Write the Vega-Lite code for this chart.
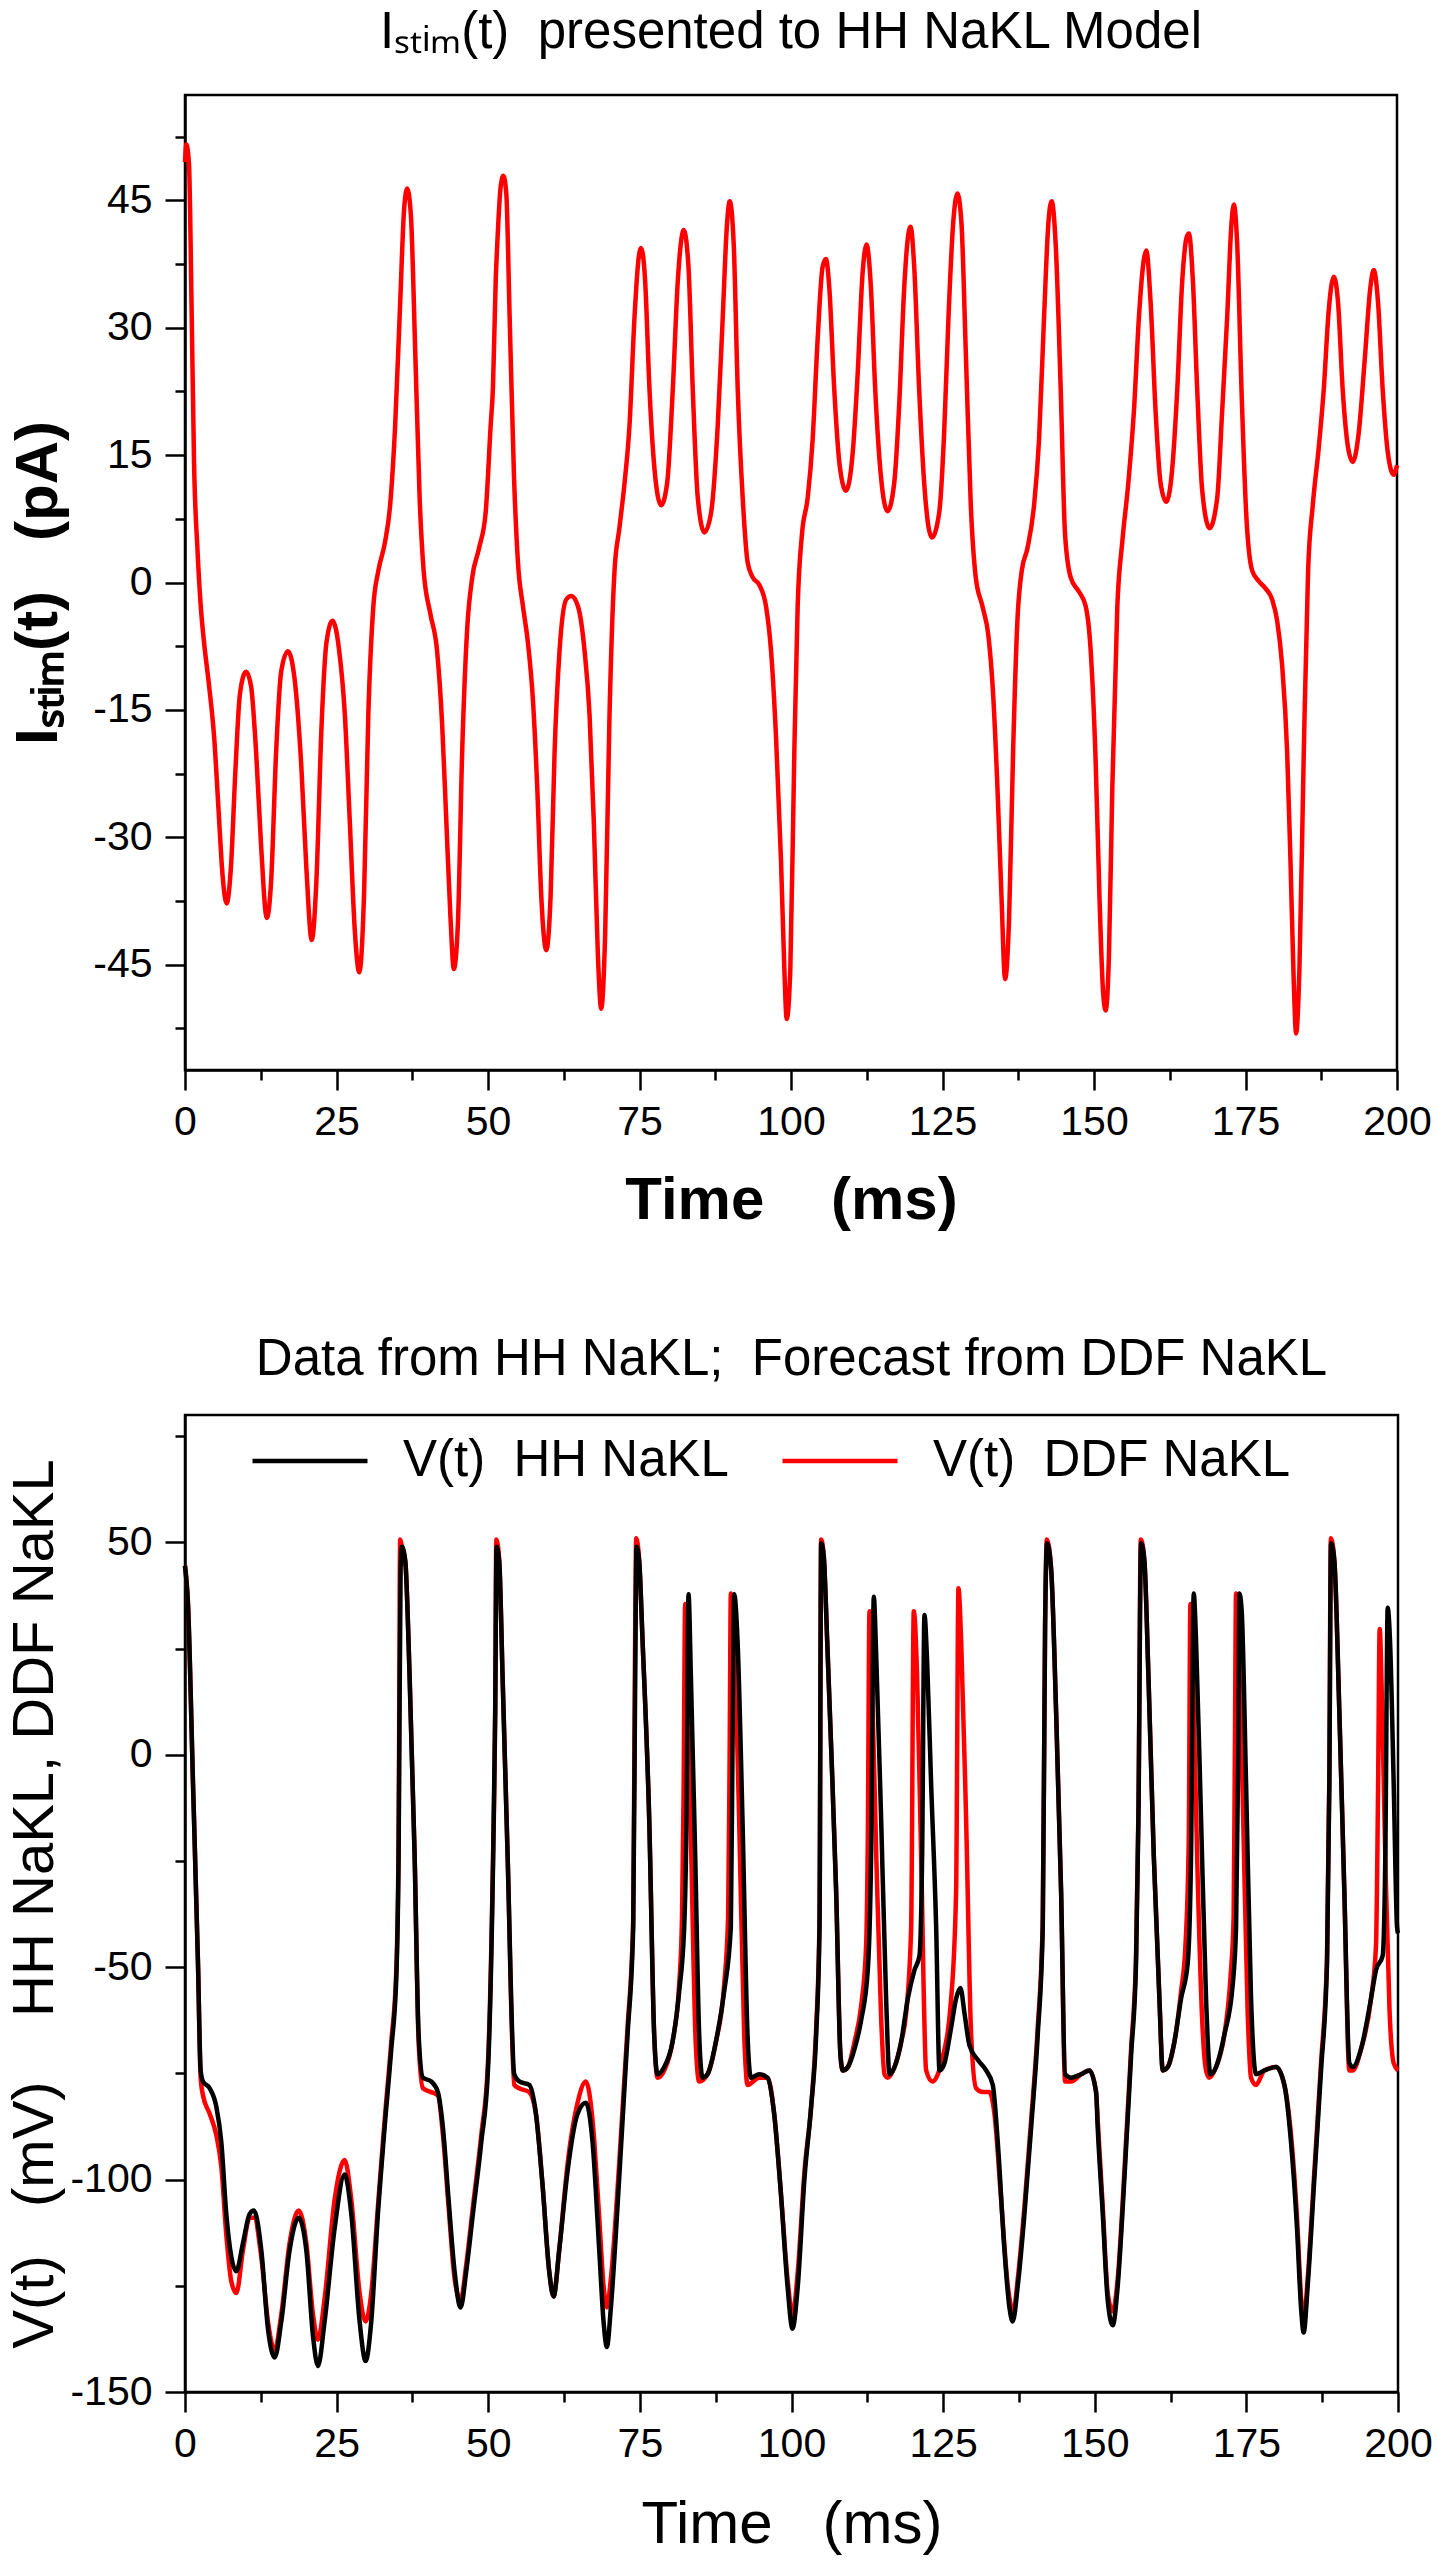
{
  "$schema": "https://vega.github.io/schema/vega-lite/v6.json",
  "padding": {"left": 5, "top": 5, "right": 0, "bottom": 0},
  "background": "white",
  "columns": 1,
  "align": "none",
  "spacing": 100,
  "resolve": {"scale": {"color": "independent"}, "legend": {"color": "independent"}},
  "config": {
    "font": "Liberation Sans",
    "view": {"stroke": "black", "strokeWidth": 2.5},
    "axis": {"domainColor": "black", "domainWidth": 2.5, "tickColor": "black", "tickWidth": 2.5, "grid": false, "labelColor": "black", "titleColor": "black", "labelFont": "Liberation Sans", "titleFont": "Liberation Sans", "labelFontSize": 41, "labelFlush": false, "labelOverlap": false},
    "title": {"font": "Liberation Sans", "color": "black", "fontWeight": "normal", "anchor": "middle", "frame": "group", "baseline": "alphabetic"}
  },
  "datasets": {
    "stim": [
      {"t":0,"I":49.5},{"t":0.22,"I":51.6},{"t":0.66,"I":49.2},{"t":1.11,"I":31.3},{"t":1.49,"I":14.2},{"t":2.05,"I":4.0},{"t":2.6,"I":-2.8},{"t":3.15,"I":-7.1},{"t":3.98,"I":-12.2},{"t":4.81,"I":-18.2},{"t":5.53,"I":-26.7},{"t":6.19,"I":-34.4},{"t":6.86,"I":-37.8},{"t":7.58,"I":-33.5},{"t":8.3,"I":-22.4},{"t":9.07,"I":-13.1},{"t":10.07,"I":-10.5},{"t":10.9,"I":-12.2},{"t":11.73,"I":-19.9},{"t":12.56,"I":-31.0},{"t":13.5,"I":-39.5},{"t":14.21,"I":-35.2},{"t":15.04,"I":-19.9},{"t":15.87,"I":-10.5},{"t":16.98,"I":-8.1},{"t":18.09,"I":-11.4},{"t":19.19,"I":-21.6},{"t":20.02,"I":-33.5},{"t":20.91,"I":-42.1},{"t":21.68,"I":-35.2},{"t":22.51,"I":-17.3},{"t":23.34,"I":-7.1},{"t":24.34,"I":-4.5},{"t":25.44,"I":-8.0},{"t":26.38,"I":-15.6},{"t":27.21,"I":-28.4},{"t":28.04,"I":-41.2},{"t":28.76,"I":-45.9},{"t":29.54,"I":-36.9},{"t":30.25,"I":-15.6},{"t":31.08,"I":-2.8},{"t":31.91,"I":1.4},{"t":33.02,"I":4.8},{"t":33.85,"I":9.1},{"t":34.68,"I":18.5},{"t":35.51,"I":33.0},{"t":36.17,"I":44.1},{"t":36.67,"I":46.4},{"t":37.28,"I":43.2},{"t":38.0,"I":27.0},{"t":38.72,"I":9.95},{"t":39.38,"I":1.4},{"t":40.49,"I":-3.7},{"t":41.59,"I":-8.0},{"t":42.42,"I":-16.5},{"t":43.14,"I":-28.4},{"t":43.81,"I":-39.5},{"t":44.36,"I":-45.5},{"t":45.02,"I":-40.4},{"t":45.74,"I":-19.9},{"t":46.57,"I":-5.4},{"t":47.4,"I":0.6},{"t":48.51,"I":4.0},{"t":49.61,"I":8.2},{"t":50.44,"I":18.5},{"t":50.82,"I":23.0},{"t":51.27,"I":35.5},{"t":51.54,"I":40.0},{"t":52.09,"I":46.6},{"t":52.53,"I":47.9},{"t":53.02,"I":45.8},{"t":53.57,"I":31.3},{"t":54.29,"I":12.5},{"t":54.95,"I":2.3},{"t":55.77,"I":-2.8},{"t":56.59,"I":-7.1},{"t":57.42,"I":-13.9},{"t":58.13,"I":-24.2},{"t":58.79,"I":-36.9},{"t":59.62,"I":-43.3},{"t":60.33,"I":-36.9},{"t":60.99,"I":-19.9},{"t":61.81,"I":-8.0},{"t":62.91,"I":-2.0},{"t":63.74,"I":-1.6},{"t":64.84,"I":-2.8},{"t":65.93,"I":-8.0},{"t":66.76,"I":-15.6},{"t":67.47,"I":-28.4},{"t":68.13,"I":-43.8},{"t":68.68,"I":-50.2},{"t":69.34,"I":-41.2},{"t":70.05,"I":-15.6},{"t":70.88,"I":1.4},{"t":71.7,"I":6.5},{"t":72.53,"I":11.7},{"t":73.35,"I":18.5},{"t":74.18,"I":31.3},{"t":74.84,"I":38.1},{"t":75.27,"I":39.4},{"t":75.93,"I":35.5},{"t":76.65,"I":22.7},{"t":77.47,"I":13.4},{"t":78.57,"I":9.1},{"t":79.56,"I":11.7},{"t":80.49,"I":22.7},{"t":81.32,"I":35.5},{"t":82.31,"I":41.5},{"t":83.08,"I":37.2},{"t":83.79,"I":22.7},{"t":84.62,"I":9.95},{"t":85.71,"I":5.9},{"t":86.81,"I":8.2},{"t":87.91,"I":18.5},{"t":88.74,"I":31.3},{"t":89.45,"I":42.3},{"t":89.89,"I":44.9},{"t":90.55,"I":39.8},{"t":91.21,"I":22.7},{"t":92.03,"I":9.95},{"t":92.86,"I":2.3},{"t":93.68,"I":0.6},{"t":94.78,"I":-0.3},{"t":95.88,"I":-2.8},{"t":96.7,"I":-8.0},{"t":97.53,"I":-18.2},{"t":98.35,"I":-32.7},{"t":98.9,"I":-45.5},{"t":99.29,"I":-51.4},{"t":99.89,"I":-45.5},{"t":100.55,"I":-19.9},{"t":101.1,"I":-2.8},{"t":101.81,"I":5.7},{"t":102.75,"I":9.95},{"t":103.57,"I":16.8},{"t":104.4,"I":28.7},{"t":105.22,"I":37.2},{"t":105.77,"I":38.1},{"t":106.32,"I":34.7},{"t":107.14,"I":22.7},{"t":107.97,"I":14.2},{"t":109.07,"I":10.8},{"t":110.16,"I":15.1},{"t":110.99,"I":24.4},{"t":111.81,"I":36.4},{"t":112.47,"I":39.8},{"t":113.19,"I":34.7},{"t":113.9,"I":22.7},{"t":114.84,"I":12.5},{"t":115.93,"I":8.4},{"t":117.03,"I":11.7},{"t":117.86,"I":21.0},{"t":118.68,"I":34.7},{"t":119.29,"I":40.6},{"t":119.73,"I":41.9},{"t":120.33,"I":37.2},{"t":121.15,"I":22.7},{"t":121.98,"I":11.7},{"t":123.24,"I":5.3},{"t":124.45,"I":8.2},{"t":125.27,"I":17.6},{"t":125.99,"I":31.3},{"t":126.76,"I":42.3},{"t":127.47,"I":45.8},{"t":128.13,"I":42.3},{"t":128.85,"I":27.0},{"t":129.67,"I":9.1},{"t":130.49,"I":0.6},{"t":131.59,"I":-2.8},{"t":132.58,"I":-6.3},{"t":133.35,"I":-13.1},{"t":134.07,"I":-24.2},{"t":134.73,"I":-36.9},{"t":135.33,"I":-46.7},{"t":135.99,"I":-39.5},{"t":136.65,"I":-19.9},{"t":137.36,"I":-4.5},{"t":138.08,"I":1.4},{"t":139.01,"I":4.0},{"t":140.11,"I":9.1},{"t":140.93,"I":16.8},{"t":141.76,"I":31.3},{"t":142.47,"I":42.3},{"t":143.02,"I":44.9},{"t":143.68,"I":39.8},{"t":144.51,"I":22.7},{"t":145.22,"I":5.7},{"t":146.15,"I":0.6},{"t":147.53,"I":-1.1},{"t":148.63,"I":-2.8},{"t":149.45,"I":-8.0},{"t":150.27,"I":-21.0},{"t":150.9,"I":-36.9},{"t":151.48,"I":-48.0},{"t":151.92,"I":-50.4},{"t":152.47,"I":-43.8},{"t":153.02,"I":-24.2},{"t":153.85,"I":-2.8},{"t":154.67,"I":4.8},{"t":155.66,"I":11.7},{"t":156.59,"I":20.2},{"t":157.42,"I":31.3},{"t":158.24,"I":38.1},{"t":158.63,"I":39.1},{"t":159.34,"I":33.0},{"t":160.16,"I":20.2},{"t":160.99,"I":11.7},{"t":161.92,"I":9.5},{"t":162.91,"I":13.4},{"t":163.74,"I":22.7},{"t":164.56,"I":35.5},{"t":165.27,"I":40.6},{"t":165.66,"I":41.1},{"t":166.32,"I":35.5},{"t":167.03,"I":22.7},{"t":167.86,"I":10.8},{"t":169.07,"I":6.4},{"t":170.33,"I":9.95},{"t":171.15,"I":20.2},{"t":171.98,"I":31.3},{"t":172.69,"I":42.3},{"t":173.08,"I":44.5},{"t":173.63,"I":39.8},{"t":174.34,"I":22.7},{"t":175.11,"I":8.2},{"t":176.1,"I":1.4},{"t":177.2,"I":0.15},{"t":178.3,"I":-0.7},{"t":179.4,"I":-2.0},{"t":180.22,"I":-4.5},{"t":181.04,"I":-9.7},{"t":181.87,"I":-19.9},{"t":182.42,"I":-32.7},{"t":182.97,"I":-47.2},{"t":183.35,"I":-53.1},{"t":183.9,"I":-45.5},{"t":184.62,"I":-19.9},{"t":185.33,"I":1.4},{"t":186.1,"I":9.1},{"t":187.09,"I":15.9},{"t":187.91,"I":22.7},{"t":188.74,"I":32.1},{"t":189.56,"I":36.0},{"t":190.27,"I":33.0},{"t":191.04,"I":22.7},{"t":191.92,"I":15.9},{"t":192.69,"I":14.2},{"t":193.68,"I":17.6},{"t":194.67,"I":26.2},{"t":195.6,"I":34.7},{"t":196.15,"I":36.8},{"t":196.87,"I":33.0},{"t":197.64,"I":22.7},{"t":198.52,"I":15.1},{"t":199.45,"I":12.7},{"t":200,"I":13.8}
    ],
    "volt": [
      {"t":0,"V":44.5,"m":"HH"},{"t":0.49,"V":35.5,"m":"HH"},{"t":1.32,"V":-6.8,"m":"HH"},{"t":2.14,"V":-49.0,"m":"HH"},{"t":2.58,"V":-74.3,"m":"HH"},{"t":2.97,"V":-76.9,"m":"HH"},{"t":4.07,"V":-78.5,"m":"HH"},{"t":5.16,"V":-82.8,"m":"HH"},{"t":5.99,"V":-91.2,"m":"HH"},{"t":6.81,"V":-108.1,"m":"HH"},{"t":7.64,"V":-118.2,"m":"HH"},{"t":8.46,"V":-121.6,"m":"HH"},{"t":9.56,"V":-114.9,"m":"HH"},{"t":10.66,"V":-108.1,"m":"HH"},{"t":11.37,"V":-107.3,"m":"HH"},{"t":12.58,"V":-116.6,"m":"HH"},{"t":13.68,"V":-135.1,"m":"HH"},{"t":14.78,"V":-141.9,"m":"HH"},{"t":15.88,"V":-133.4,"m":"HH"},{"t":17.25,"V":-116.6,"m":"HH"},{"t":18.74,"V":-109.0,"m":"HH"},{"t":20.0,"V":-116.6,"m":"HH"},{"t":21.1,"V":-136.8,"m":"HH"},{"t":21.92,"V":-143.9,"m":"HH"},{"t":23.02,"V":-133.4,"m":"HH"},{"t":24.67,"V":-111.5,"m":"HH"},{"t":26.32,"V":-98.8,"m":"HH"},{"t":27.42,"V":-108.1,"m":"HH"},{"t":28.79,"V":-133.4,"m":"HH"},{"t":29.78,"V":-142.7,"m":"HH"},{"t":30.71,"V":-133.4,"m":"HH"},{"t":31.81,"V":-108.1,"m":"HH"},{"t":32.91,"V":-87.8,"m":"HH"},{"t":34.01,"V":-69.3,"m":"HH"},{"t":34.84,"V":-52.4,"m":"HH"},{"t":35.22,"V":-23.6,"m":"HH"},{"t":35.55,"V":43.9,"m":"HH"},{"t":35.77,"V":49.0,"m":"HH"},{"t":36.32,"V":45.6,"m":"HH"},{"t":37.03,"V":18.6,"m":"HH"},{"t":37.86,"V":-23.6,"m":"HH"},{"t":38.52,"V":-65.9,"m":"HH"},{"t":39.23,"V":-76.0,"m":"HH"},{"t":40.6,"V":-76.9,"m":"HH"},{"t":41.7,"V":-79.4,"m":"HH"},{"t":42.53,"V":-87.8,"m":"HH"},{"t":43.46,"V":-104.7,"m":"HH"},{"t":44.45,"V":-121.6,"m":"HH"},{"t":45.44,"V":-130.1,"m":"HH"},{"t":46.37,"V":-121.6,"m":"HH"},{"t":47.47,"V":-108.1,"m":"HH"},{"t":48.85,"V":-91.2,"m":"HH"},{"t":49.95,"V":-74.3,"m":"HH"},{"t":50.71,"V":-32.1,"m":"HH"},{"t":51.15,"V":10.1,"m":"HH"},{"t":51.37,"V":49.0,"m":"HH"},{"t":51.81,"V":45.6,"m":"HH"},{"t":52.36,"V":18.6,"m":"HH"},{"t":53.19,"V":-23.6,"m":"HH"},{"t":54.29,"V":-75.2,"m":"HH"},{"t":55.11,"V":-76.9,"m":"HH"},{"t":56.76,"V":-77.7,"m":"HH"},{"t":57.86,"V":-84.5,"m":"HH"},{"t":58.96,"V":-101.4,"m":"HH"},{"t":60.05,"V":-121.6,"m":"HH"},{"t":60.77,"V":-127.5,"m":"HH"},{"t":61.7,"V":-116.6,"m":"HH"},{"t":63.08,"V":-98.0,"m":"HH"},{"t":64.73,"V":-84.5,"m":"HH"},{"t":66.1,"V":-81.9,"m":"HH"},{"t":67.2,"V":-91.2,"m":"HH"},{"t":68.3,"V":-116.6,"m":"HH"},{"t":69.01,"V":-133.4,"m":"HH"},{"t":69.56,"V":-139.4,"m":"HH"},{"t":70.22,"V":-130.1,"m":"HH"},{"t":71.59,"V":-99.7,"m":"HH"},{"t":72.97,"V":-65.9,"m":"HH"},{"t":73.9,"V":-40.5,"m":"HH"},{"t":74.23,"V":18.6,"m":"HH"},{"t":74.45,"V":49.0,"m":"HH"},{"t":74.89,"V":45.6,"m":"HH"},{"t":75.44,"V":27.0,"m":"HH"},{"t":76.54,"V":-15.2,"m":"HH"},{"t":77.36,"V":-65.9,"m":"HH"},{"t":77.91,"V":-75.2,"m":"HH"},{"t":79.01,"V":-73.5,"m":"HH"},{"t":80.38,"V":-67.6,"m":"HH"},{"t":81.48,"V":-55.7,"m":"HH"},{"t":82.31,"V":-40.5,"m":"HH"},{"t":82.69,"V":-15.2,"m":"HH"},{"t":83.02,"V":37.8,"m":"HH"},{"t":83.41,"V":18.6,"m":"HH"},{"t":84.12,"V":-23.6,"m":"HH"},{"t":84.78,"V":-65.9,"m":"HH"},{"t":85.33,"V":-76.0,"m":"HH"},{"t":86.15,"V":-75.2,"m":"HH"},{"t":87.53,"V":-67.6,"m":"HH"},{"t":88.9,"V":-55.7,"m":"HH"},{"t":90.0,"V":-40.5,"m":"HH"},{"t":90.27,"V":1.7,"m":"HH"},{"t":90.55,"V":37.8,"m":"HH"},{"t":91.1,"V":27.0,"m":"HH"},{"t":91.92,"V":-15.2,"m":"HH"},{"t":92.75,"V":-65.9,"m":"HH"},{"t":93.3,"V":-76.0,"m":"HH"},{"t":94.67,"V":-75.2,"m":"HH"},{"t":96.04,"V":-76.0,"m":"HH"},{"t":97.14,"V":-84.5,"m":"HH"},{"t":98.24,"V":-103.0,"m":"HH"},{"t":99.34,"V":-125.0,"m":"HH"},{"t":100.16,"V":-135.1,"m":"HH"},{"t":101.04,"V":-125.0,"m":"HH"},{"t":102.14,"V":-99.7,"m":"HH"},{"t":103.24,"V":-82.8,"m":"HH"},{"t":104.07,"V":-65.9,"m":"HH"},{"t":104.62,"V":-40.5,"m":"HH"},{"t":104.89,"V":49.8,"m":"HH"},{"t":105.33,"V":46.5,"m":"HH"},{"t":105.88,"V":27.0,"m":"HH"},{"t":106.54,"V":1.7,"m":"HH"},{"t":107.36,"V":-32.1,"m":"HH"},{"t":108.08,"V":-70.9,"m":"HH"},{"t":108.46,"V":-74.3,"m":"HH"},{"t":109.29,"V":-73.5,"m":"HH"},{"t":110.38,"V":-69.3,"m":"HH"},{"t":111.48,"V":-62.5,"m":"HH"},{"t":112.58,"V":-50.7,"m":"HH"},{"t":113.13,"V":-23.6,"m":"HH"},{"t":113.57,"V":37.2,"m":"HH"},{"t":113.96,"V":23.6,"m":"HH"},{"t":114.78,"V":-15.2,"m":"HH"},{"t":115.6,"V":-57.4,"m":"HH"},{"t":116.15,"V":-75.2,"m":"HH"},{"t":116.98,"V":-73.5,"m":"HH"},{"t":118.08,"V":-67.6,"m":"HH"},{"t":119.18,"V":-57.4,"m":"HH"},{"t":120.27,"V":-50.7,"m":"HH"},{"t":121.1,"V":-47.3,"m":"HH"},{"t":121.54,"V":-23.6,"m":"HH"},{"t":121.92,"V":32.9,"m":"HH"},{"t":122.36,"V":22.0,"m":"HH"},{"t":123.02,"V":-6.8,"m":"HH"},{"t":123.85,"V":-40.5,"m":"HH"},{"t":124.4,"V":-74.3,"m":"HH"},{"t":125.22,"V":-72.6,"m":"HH"},{"t":126.32,"V":-64.2,"m":"HH"},{"t":127.14,"V":-57.4,"m":"HH"},{"t":127.86,"V":-54.9,"m":"HH"},{"t":128.52,"V":-60.8,"m":"HH"},{"t":129.34,"V":-68.4,"m":"HH"},{"t":130.71,"V":-71.8,"m":"HH"},{"t":132.09,"V":-74.3,"m":"HH"},{"t":133.19,"V":-77.7,"m":"HH"},{"t":134.01,"V":-91.2,"m":"HH"},{"t":135.11,"V":-116.6,"m":"HH"},{"t":135.93,"V":-130.1,"m":"HH"},{"t":136.48,"V":-133.4,"m":"HH"},{"t":137.31,"V":-125.0,"m":"HH"},{"t":138.41,"V":-108.1,"m":"HH"},{"t":139.51,"V":-87.8,"m":"HH"},{"t":140.6,"V":-65.9,"m":"HH"},{"t":141.43,"V":-40.5,"m":"HH"},{"t":141.81,"V":30.0,"m":"HH"},{"t":142.14,"V":49.8,"m":"HH"},{"t":142.8,"V":43.9,"m":"HH"},{"t":143.63,"V":10.1,"m":"HH"},{"t":144.45,"V":-32.1,"m":"HH"},{"t":145.11,"V":-75.2,"m":"HH"},{"t":146.1,"V":-76.0,"m":"HH"},{"t":147.75,"V":-75.2,"m":"HH"},{"t":149.12,"V":-74.3,"m":"HH"},{"t":150.22,"V":-79.4,"m":"HH"},{"t":150.49,"V":-87.8,"m":"HH"},{"t":151.32,"V":-108.1,"m":"HH"},{"t":152.14,"V":-128.4,"m":"HH"},{"t":152.97,"V":-134.3,"m":"HH"},{"t":153.79,"V":-125.0,"m":"HH"},{"t":154.89,"V":-99.7,"m":"HH"},{"t":155.99,"V":-70.9,"m":"HH"},{"t":156.81,"V":-49.0,"m":"HH"},{"t":157.2,"V":-15.2,"m":"HH"},{"t":157.64,"V":49.8,"m":"HH"},{"t":158.19,"V":45.6,"m":"HH"},{"t":158.85,"V":18.6,"m":"HH"},{"t":159.73,"V":-23.6,"m":"HH"},{"t":160.66,"V":-57.4,"m":"HH"},{"t":161.21,"V":-74.3,"m":"HH"},{"t":162.03,"V":-73.5,"m":"HH"},{"t":163.13,"V":-67.6,"m":"HH"},{"t":164.23,"V":-57.4,"m":"HH"},{"t":165.33,"V":-49.0,"m":"HH"},{"t":165.88,"V":-23.6,"m":"HH"},{"t":166.32,"V":38.0,"m":"HH"},{"t":166.7,"V":27.0,"m":"HH"},{"t":167.53,"V":-15.2,"m":"HH"},{"t":168.35,"V":-57.4,"m":"HH"},{"t":169.07,"V":-75.2,"m":"HH"},{"t":170.0,"V":-73.5,"m":"HH"},{"t":171.37,"V":-65.9,"m":"HH"},{"t":172.75,"V":-54.1,"m":"HH"},{"t":173.3,"V":-40.5,"m":"HH"},{"t":173.68,"V":1.7,"m":"HH"},{"t":173.85,"V":38.0,"m":"HH"},{"t":174.23,"V":33.8,"m":"HH"},{"t":174.95,"V":-6.8,"m":"HH"},{"t":175.77,"V":-57.4,"m":"HH"},{"t":176.59,"V":-75.2,"m":"HH"},{"t":177.97,"V":-74.3,"m":"HH"},{"t":179.89,"V":-73.5,"m":"HH"},{"t":181.26,"V":-77.7,"m":"HH"},{"t":182.36,"V":-91.2,"m":"HH"},{"t":183.35,"V":-111.5,"m":"HH"},{"t":184.01,"V":-130.1,"m":"HH"},{"t":184.45,"V":-136.0,"m":"HH"},{"t":185.11,"V":-125.0,"m":"HH"},{"t":186.21,"V":-99.7,"m":"HH"},{"t":187.31,"V":-74.3,"m":"HH"},{"t":188.3,"V":-49.0,"m":"HH"},{"t":188.68,"V":-6.8,"m":"HH"},{"t":188.96,"V":49.8,"m":"HH"},{"t":189.51,"V":45.6,"m":"HH"},{"t":190.33,"V":10.1,"m":"HH"},{"t":191.15,"V":-32.1,"m":"HH"},{"t":191.98,"V":-72.6,"m":"HH"},{"t":192.53,"V":-73.5,"m":"HH"},{"t":193.9,"V":-69.3,"m":"HH"},{"t":195.55,"V":-57.4,"m":"HH"},{"t":196.37,"V":-50.7,"m":"HH"},{"t":197.47,"V":-47.3,"m":"HH"},{"t":197.91,"V":-23.6,"m":"HH"},{"t":198.3,"V":34.6,"m":"HH"},{"t":198.68,"V":27.0,"m":"HH"},{"t":199.29,"V":-6.8,"m":"HH"},{"t":199.84,"V":-40.5,"m":"HH"},{"t":200,"V":-42.0,"m":"HH"},
      {"t":0,"V":44.5,"m":"DDF"},{"t":0.49,"V":35.5,"m":"DDF"},{"t":1.32,"V":-6.8,"m":"DDF"},{"t":2.14,"V":-49.0,"m":"DDF"},{"t":2.58,"V":-76.0,"m":"DDF"},{"t":2.97,"V":-80.2,"m":"DDF"},{"t":4.07,"V":-84.5,"m":"DDF"},{"t":5.16,"V":-89.5,"m":"DDF"},{"t":5.99,"V":-97.0,"m":"DDF"},{"t":6.81,"V":-113.0,"m":"DDF"},{"t":7.64,"V":-124.0,"m":"DDF"},{"t":8.46,"V":-126.7,"m":"DDF"},{"t":9.56,"V":-116.6,"m":"DDF"},{"t":10.66,"V":-109.0,"m":"DDF"},{"t":11.37,"V":-109.0,"m":"DDF"},{"t":12.58,"V":-118.2,"m":"DDF"},{"t":13.68,"V":-133.4,"m":"DDF"},{"t":14.78,"V":-140.2,"m":"DDF"},{"t":15.88,"V":-131.7,"m":"DDF"},{"t":17.25,"V":-114.9,"m":"DDF"},{"t":18.74,"V":-107.3,"m":"DDF"},{"t":20.0,"V":-114.9,"m":"DDF"},{"t":21.1,"V":-131.7,"m":"DDF"},{"t":21.92,"V":-137.7,"m":"DDF"},{"t":23.02,"V":-128.0,"m":"DDF"},{"t":24.67,"V":-104.7,"m":"DDF"},{"t":26.32,"V":-95.4,"m":"DDF"},{"t":27.42,"V":-104.7,"m":"DDF"},{"t":28.79,"V":-126.7,"m":"DDF"},{"t":29.78,"V":-133.4,"m":"DDF"},{"t":30.71,"V":-126.7,"m":"DDF"},{"t":31.81,"V":-106.4,"m":"DDF"},{"t":32.91,"V":-86.1,"m":"DDF"},{"t":34.01,"V":-67.6,"m":"DDF"},{"t":34.84,"V":-50.7,"m":"DDF"},{"t":35.22,"V":-20.0,"m":"DDF"},{"t":35.48,"V":50.7,"m":"DDF"},{"t":35.77,"V":49.0,"m":"DDF"},{"t":36.32,"V":45.6,"m":"DDF"},{"t":37.03,"V":18.6,"m":"DDF"},{"t":37.86,"V":-23.6,"m":"DDF"},{"t":38.52,"V":-67.6,"m":"DDF"},{"t":39.23,"V":-78.5,"m":"DDF"},{"t":40.6,"V":-79.4,"m":"DDF"},{"t":41.7,"V":-80.2,"m":"DDF"},{"t":42.53,"V":-89.5,"m":"DDF"},{"t":43.46,"V":-106.4,"m":"DDF"},{"t":44.45,"V":-123.3,"m":"DDF"},{"t":45.44,"V":-128.4,"m":"DDF"},{"t":46.37,"V":-120.0,"m":"DDF"},{"t":47.47,"V":-106.4,"m":"DDF"},{"t":48.85,"V":-89.5,"m":"DDF"},{"t":49.95,"V":-72.6,"m":"DDF"},{"t":50.71,"V":-30.0,"m":"DDF"},{"t":51.15,"V":12.0,"m":"DDF"},{"t":51.33,"V":50.7,"m":"DDF"},{"t":51.81,"V":45.6,"m":"DDF"},{"t":52.36,"V":18.6,"m":"DDF"},{"t":53.19,"V":-23.6,"m":"DDF"},{"t":54.29,"V":-77.7,"m":"DDF"},{"t":55.11,"V":-78.5,"m":"DDF"},{"t":56.76,"V":-79.4,"m":"DDF"},{"t":57.86,"V":-84.5,"m":"DDF"},{"t":58.96,"V":-101.4,"m":"DDF"},{"t":60.05,"V":-121.6,"m":"DDF"},{"t":60.77,"V":-127.5,"m":"DDF"},{"t":61.7,"V":-116.6,"m":"DDF"},{"t":63.08,"V":-96.3,"m":"DDF"},{"t":64.73,"V":-81.9,"m":"DDF"},{"t":66.1,"V":-76.9,"m":"DDF"},{"t":67.2,"V":-86.1,"m":"DDF"},{"t":68.3,"V":-109.0,"m":"DDF"},{"t":69.01,"V":-125.0,"m":"DDF"},{"t":69.56,"V":-130.1,"m":"DDF"},{"t":70.22,"V":-123.3,"m":"DDF"},{"t":71.59,"V":-96.3,"m":"DDF"},{"t":72.97,"V":-64.2,"m":"DDF"},{"t":73.9,"V":-38.9,"m":"DDF"},{"t":74.18,"V":20.0,"m":"DDF"},{"t":74.4,"V":51.0,"m":"DDF"},{"t":74.89,"V":45.6,"m":"DDF"},{"t":75.44,"V":27.0,"m":"DDF"},{"t":76.54,"V":-15.2,"m":"DDF"},{"t":77.36,"V":-65.9,"m":"DDF"},{"t":77.91,"V":-76.0,"m":"DDF"},{"t":79.01,"V":-74.3,"m":"DDF"},{"t":80.38,"V":-67.6,"m":"DDF"},{"t":81.48,"V":-54.1,"m":"DDF"},{"t":81.95,"V":-38.0,"m":"DDF"},{"t":82.2,"V":-10.0,"m":"DDF"},{"t":82.47,"V":35.5,"m":"DDF"},{"t":82.85,"V":15.0,"m":"DDF"},{"t":83.5,"V":-25.0,"m":"DDF"},{"t":84.2,"V":-67.6,"m":"DDF"},{"t":84.78,"V":-76.9,"m":"DDF"},{"t":86.15,"V":-75.2,"m":"DDF"},{"t":87.53,"V":-67.6,"m":"DDF"},{"t":88.9,"V":-54.1,"m":"DDF"},{"t":89.55,"V":-38.0,"m":"DDF"},{"t":89.8,"V":0.0,"m":"DDF"},{"t":90.0,"V":38.0,"m":"DDF"},{"t":90.55,"V":27.0,"m":"DDF"},{"t":91.37,"V":-15.2,"m":"DDF"},{"t":92.2,"V":-65.9,"m":"DDF"},{"t":92.75,"V":-77.7,"m":"DDF"},{"t":94.67,"V":-76.0,"m":"DDF"},{"t":96.04,"V":-76.0,"m":"DDF"},{"t":97.14,"V":-84.5,"m":"DDF"},{"t":98.24,"V":-103.0,"m":"DDF"},{"t":99.34,"V":-123.3,"m":"DDF"},{"t":100.16,"V":-131.8,"m":"DDF"},{"t":101.04,"V":-121.6,"m":"DDF"},{"t":102.14,"V":-98.0,"m":"DDF"},{"t":103.24,"V":-82.8,"m":"DDF"},{"t":104.07,"V":-64.2,"m":"DDF"},{"t":104.62,"V":-38.9,"m":"DDF"},{"t":104.89,"V":50.7,"m":"DDF"},{"t":105.33,"V":46.5,"m":"DDF"},{"t":105.88,"V":27.0,"m":"DDF"},{"t":106.54,"V":1.7,"m":"DDF"},{"t":107.36,"V":-32.1,"m":"DDF"},{"t":108.08,"V":-70.9,"m":"DDF"},{"t":108.46,"V":-74.3,"m":"DDF"},{"t":109.29,"V":-73.5,"m":"DDF"},{"t":110.38,"V":-67.6,"m":"DDF"},{"t":111.48,"V":-59.1,"m":"DDF"},{"t":112.3,"V":-45.0,"m":"DDF"},{"t":112.58,"V":-20.0,"m":"DDF"},{"t":112.86,"V":33.8,"m":"DDF"},{"t":113.3,"V":15.0,"m":"DDF"},{"t":114.0,"V":-25.0,"m":"DDF"},{"t":114.78,"V":-62.0,"m":"DDF"},{"t":115.33,"V":-75.2,"m":"DDF"},{"t":115.88,"V":-76.0,"m":"DDF"},{"t":116.98,"V":-73.5,"m":"DDF"},{"t":118.08,"V":-67.6,"m":"DDF"},{"t":118.9,"V":-60.8,"m":"DDF"},{"t":119.73,"V":-40.5,"m":"DDF"},{"t":120.16,"V":33.8,"m":"DDF"},{"t":120.71,"V":18.6,"m":"DDF"},{"t":121.37,"V":-23.6,"m":"DDF"},{"t":122.2,"V":-74.3,"m":"DDF"},{"t":123.24,"V":-76.9,"m":"DDF"},{"t":124.67,"V":-72.6,"m":"DDF"},{"t":126.32,"V":-57.4,"m":"DDF"},{"t":127.14,"V":-32.1,"m":"DDF"},{"t":127.53,"V":39.2,"m":"DDF"},{"t":127.97,"V":27.0,"m":"DDF"},{"t":128.79,"V":-15.2,"m":"DDF"},{"t":129.62,"V":-65.9,"m":"DDF"},{"t":130.44,"V":-78.5,"m":"DDF"},{"t":131.54,"V":-79.4,"m":"DDF"},{"t":132.64,"V":-79.4,"m":"DDF"},{"t":133.46,"V":-84.5,"m":"DDF"},{"t":134.56,"V":-104.7,"m":"DDF"},{"t":135.66,"V":-125.0,"m":"DDF"},{"t":136.59,"V":-131.0,"m":"DDF"},{"t":137.31,"V":-123.3,"m":"DDF"},{"t":138.41,"V":-106.4,"m":"DDF"},{"t":139.51,"V":-86.1,"m":"DDF"},{"t":140.6,"V":-64.2,"m":"DDF"},{"t":141.43,"V":-38.9,"m":"DDF"},{"t":141.81,"V":30.0,"m":"DDF"},{"t":142.1,"V":50.7,"m":"DDF"},{"t":142.8,"V":43.9,"m":"DDF"},{"t":143.63,"V":10.1,"m":"DDF"},{"t":144.45,"V":-32.1,"m":"DDF"},{"t":145.11,"V":-76.9,"m":"DDF"},{"t":146.1,"V":-76.9,"m":"DDF"},{"t":147.75,"V":-75.2,"m":"DDF"},{"t":149.12,"V":-74.3,"m":"DDF"},{"t":150.22,"V":-79.4,"m":"DDF"},{"t":150.49,"V":-86.1,"m":"DDF"},{"t":151.32,"V":-106.4,"m":"DDF"},{"t":152.14,"V":-126.7,"m":"DDF"},{"t":152.97,"V":-131.0,"m":"DDF"},{"t":153.79,"V":-123.3,"m":"DDF"},{"t":154.89,"V":-98.0,"m":"DDF"},{"t":155.99,"V":-69.3,"m":"DDF"},{"t":156.81,"V":-47.3,"m":"DDF"},{"t":157.2,"V":-13.5,"m":"DDF"},{"t":157.6,"V":50.7,"m":"DDF"},{"t":158.19,"V":45.6,"m":"DDF"},{"t":158.85,"V":18.6,"m":"DDF"},{"t":159.73,"V":-23.6,"m":"DDF"},{"t":160.66,"V":-57.4,"m":"DDF"},{"t":161.21,"V":-74.3,"m":"DDF"},{"t":162.03,"V":-73.5,"m":"DDF"},{"t":163.13,"V":-67.6,"m":"DDF"},{"t":164.23,"V":-55.7,"m":"DDF"},{"t":164.95,"V":-45.0,"m":"DDF"},{"t":165.5,"V":-20.0,"m":"DDF"},{"t":165.77,"V":35.5,"m":"DDF"},{"t":166.2,"V":18.0,"m":"DDF"},{"t":166.9,"V":-25.0,"m":"DDF"},{"t":167.7,"V":-62.0,"m":"DDF"},{"t":168.35,"V":-74.3,"m":"DDF"},{"t":168.9,"V":-76.0,"m":"DDF"},{"t":170.0,"V":-73.5,"m":"DDF"},{"t":171.37,"V":-65.9,"m":"DDF"},{"t":172.4,"V":-52.0,"m":"DDF"},{"t":172.9,"V":-38.0,"m":"DDF"},{"t":173.1,"V":0.0,"m":"DDF"},{"t":173.3,"V":38.0,"m":"DDF"},{"t":173.7,"V":28.0,"m":"DDF"},{"t":174.4,"V":-10.0,"m":"DDF"},{"t":175.2,"V":-60.0,"m":"DDF"},{"t":175.77,"V":-76.0,"m":"DDF"},{"t":176.59,"V":-77.7,"m":"DDF"},{"t":177.97,"V":-74.3,"m":"DDF"},{"t":179.89,"V":-73.5,"m":"DDF"},{"t":181.26,"V":-77.7,"m":"DDF"},{"t":182.36,"V":-89.5,"m":"DDF"},{"t":183.35,"V":-109.0,"m":"DDF"},{"t":184.01,"V":-127.5,"m":"DDF"},{"t":184.45,"V":-133.4,"m":"DDF"},{"t":185.11,"V":-123.3,"m":"DDF"},{"t":186.21,"V":-98.0,"m":"DDF"},{"t":187.31,"V":-72.6,"m":"DDF"},{"t":188.3,"V":-47.3,"m":"DDF"},{"t":188.68,"V":-5.0,"m":"DDF"},{"t":188.93,"V":51.0,"m":"DDF"},{"t":189.51,"V":45.6,"m":"DDF"},{"t":190.33,"V":10.1,"m":"DDF"},{"t":191.15,"V":-32.1,"m":"DDF"},{"t":191.98,"V":-74.3,"m":"DDF"},{"t":192.53,"V":-74.3,"m":"DDF"},{"t":193.9,"V":-69.3,"m":"DDF"},{"t":195.55,"V":-57.4,"m":"DDF"},{"t":196.37,"V":-45.0,"m":"DDF"},{"t":196.7,"V":-10.0,"m":"DDF"},{"t":196.98,"V":29.6,"m":"DDF"},{"t":197.4,"V":10.0,"m":"DDF"},{"t":198.0,"V":-30.0,"m":"DDF"},{"t":198.6,"V":-60.0,"m":"DDF"},{"t":199.29,"V":-72.6,"m":"DDF"},{"t":200,"V":-74.3,"m":"DDF"}
    ]
  },
  "concat": [
    {
      "width": 1212,
      "height": 975,
      "title": {"text": "I\u209b\u209c\u1d62\u2098(t)\u00a0\u00a0presented to HH NaKL Model", "fontSize": 51, "offset": 36},
      "data": {"name": "stim"},
      "layer": [
        {
          "mark": {"type": "line", "color": "#ff0000", "strokeWidth": 4.5, "interpolate": "monotone"},
          "encoding": {
            "x": {"field": "t", "type": "quantitative", "scale": {"domain": [0, 200], "nice": false},
              "axis": {"values": [0, 25, 50, 75, 100, 125, 150, 175, 200], "title": "Time\u00a0\u00a0\u00a0\u00a0(ms)", "titleFontSize": 60, "titleFontWeight": "bold", "tickSize": 20, "labelPadding": 12, "titlePadding": 29, "labelExpr": "replace(datum.label, '\u2212', '-')"}},
            "y": {"field": "I", "type": "quantitative", "scale": {"domain": [-57.4, 57.4], "nice": false, "zero": false},
              "axis": {"values": [-45, -30, -15, 0, 15, 30, 45], "title": "I\u209b\u209c\u1d62\u2098(t)\u00a0\u00a0\u00a0(pA)", "titleFontSize": 60, "titleFontWeight": "bold", "tickSize": 20, "labelPadding": 13, "titlePadding": 23, "labelExpr": "replace(datum.label, '\u2212', '-')"}}
          }
        },
        {
          "mark": {"type": "line", "opacity": 0},
          "encoding": {
            "x": {"field": "t", "type": "quantitative", "scale": {"domain": [0, 200], "nice": false},
              "axis": {"orient": "bottom", "values": [12.5, 37.5, 62.5, 87.5, 112.5, 137.5, 162.5, 187.5], "labels": false, "domain": false, "tickSize": 10, "title": null}},
            "y": {"field": "I", "type": "quantitative", "scale": {"domain": [-57.4, 57.4], "nice": false, "zero": false},
              "axis": {"orient": "left", "values": [-52.5, -37.5, -22.5, -7.5, 7.5, 22.5, 37.5, 52.5], "labels": false, "domain": false, "tickSize": 10, "title": null}}
          }
        }
      ],
      "resolve": {"axis": {"x": "independent", "y": "independent"}}
    },
    {
      "width": 1213,
      "height": 977,
      "title": {"text": "Data from HH NaKL;\u00a0\u00a0Forecast from DDF NaKL", "fontSize": 51, "offset": 15},
      "data": {"name": "volt"},
      "layer": [
        {
          "transform": [{"filter": "datum.m === 'DDF'"}],
          "mark": {"type": "line", "strokeWidth": 4.5, "interpolate": "monotone"},
          "encoding": {
            "x": {"field": "t", "type": "quantitative", "scale": {"domain": [0, 200], "nice": false},
              "axis": {"values": [0, 25, 50, 75, 100, 125, 150, 175, 200], "title": "Time\u00a0\u00a0\u00a0(ms)", "titleFontSize": 60, "titleFontWeight": "normal", "tickSize": 20, "labelPadding": 12, "titlePadding": 31, "labelExpr": "replace(datum.label, '\u2212', '-')"}},
            "y": {"field": "V", "type": "quantitative", "scale": {"domain": [-150, 80], "nice": false, "zero": false},
              "axis": {"values": [-150, -100, -50, 0, 50], "title": "V(t)\u00a0\u00a0\u00a0(mV)\u00a0\u00a0\u00a0\u00a0HH NaKL, DDF NaKL", "titleFontSize": 58, "titleFontWeight": "normal", "tickSize": 20, "labelPadding": 13, "titlePadding": 5, "labelExpr": "replace(datum.label, '\u2212', '-')"}},
            "color": {"datum": "V(t)\u00a0\u00a0DDF NaKL", "type": "nominal",
              "scale": {"domain": ["V(t)\u00a0\u00a0HH NaKL", "V(t)\u00a0\u00a0DDF NaKL"], "range": ["#000000", "#ff0000"]},
              "legend": {"orient": "none", "legendX": 65, "legendY": -14, "direction": "horizontal", "title": null, "symbolType": "stroke", "symbolSize": 13225, "symbolStrokeWidth": 4.5, "labelFontSize": 51, "labelFont": "Liberation Sans", "labelColor": "black", "labelOffset": 33, "columnPadding": 44, "labelLimit": 600}}
          }
        },
        {
          "transform": [{"filter": "datum.m === 'HH'"}],
          "mark": {"type": "line", "strokeWidth": 4.5, "interpolate": "monotone"},
          "encoding": {
            "x": {"field": "t", "type": "quantitative", "scale": {"domain": [0, 200], "nice": false}, "axis": null},
            "y": {"field": "V", "type": "quantitative", "scale": {"domain": [-150, 80], "nice": false, "zero": false}, "axis": null},
            "color": {"datum": "V(t)\u00a0\u00a0HH NaKL", "type": "nominal"}
          }
        },
        {
          "mark": {"type": "line", "opacity": 0},
          "encoding": {
            "x": {"field": "t", "type": "quantitative", "scale": {"domain": [0, 200], "nice": false},
              "axis": {"orient": "bottom", "values": [12.5, 37.5, 62.5, 87.5, 112.5, 137.5, 162.5, 187.5], "labels": false, "domain": false, "tickSize": 10, "title": null}},
            "y": {"field": "V", "type": "quantitative", "scale": {"domain": [-150, 80], "nice": false, "zero": false},
              "axis": {"orient": "left", "values": [-125, -75, -25, 25, 75], "labels": false, "domain": false, "tickSize": 10, "title": null}}
          }
        }
      ],
      "resolve": {"axis": {"x": "independent", "y": "independent"}}
    }
  ]
}
